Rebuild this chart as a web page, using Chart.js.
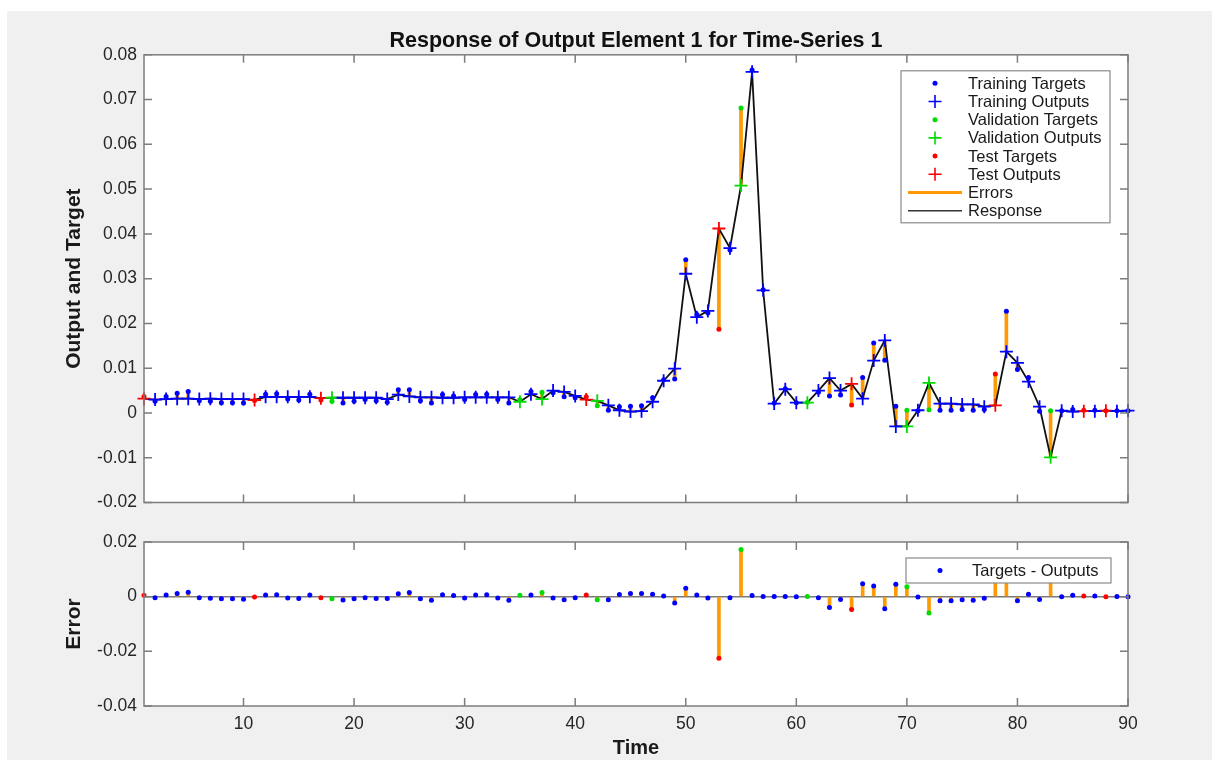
<!DOCTYPE html>
<html>
<head>
<meta charset="utf-8">
<script src="https://cdn.jsdelivr.net/npm/chart.js@4.4.1/dist/chart.umd.min.js"></script>
<style>
  html, body { margin: 0; padding: 0; background: #fff; }
  #bg { position: absolute; left: 7px; top: 11px; width: 1205px; height: 749px; background: #f0f0f0; }
  #respBox { position: absolute; left: 0; top: 0; width: 1212px; height: 520px; }
  #errBox { position: absolute; left: 0; top: 520px; width: 1212px; height: 240px; }
</style>
</head>
<body>
<div id="bg"></div>
<div id="respBox"><canvas id="resp" width="1212" height="520"></canvas></div>
<div id="errBox"><canvas id="err" width="1212" height="240"></canvas></div>
<script>
// time steps 1..90
const timeSteps = [
  1, 2, 3, 4, 5, 6, 7, 8, 9, 10, 11, 12, 13, 14, 15, 16, 17, 18, 19, 20,
  21, 22, 23, 24, 25, 26, 27, 28, 29, 30, 31, 32, 33, 34, 35, 36, 37, 38, 39, 40,
  41, 42, 43, 44, 45, 46, 47, 48, 49, 50, 51, 52, 53, 54, 55, 56, 57, 58, 59, 60,
  61, 62, 63, 64, 65, 66, 67, 68, 69, 70, 71, 72, 73, 74, 75, 76, 77, 78, 79, 80,
  81, 82, 83, 84, 85, 86, 87, 88, 89, 90
]

// network outputs
const outputs = [
  0.0032, 0.0030, 0.0031, 0.0032, 0.0032, 0.0031, 0.0032, 0.0031, 0.0031, 0.0031,
  0.0029, 0.0036, 0.0036, 0.0036, 0.0036, 0.0036, 0.0033, 0.0034, 0.0034, 0.0034,
  0.0034, 0.0034, 0.0031, 0.0041, 0.0037, 0.0035, 0.0035, 0.0034, 0.0034, 0.0035,
  0.0035, 0.0035, 0.0035, 0.0035, 0.0025, 0.0042, 0.0031, 0.0050, 0.0047, 0.0038,
  0.0030, 0.0027, 0.0017, 0.0006, 0.0003, 0.0004, 0.0025, 0.0072, 0.0099, 0.0311,
  0.0214, 0.0228, 0.0412, 0.0368, 0.0508, 0.0762, 0.0274, 0.0021, 0.0053, 0.0023,
  0.0023, 0.0050, 0.0078, 0.0050, 0.0065, 0.0032, 0.0117, 0.0162, -0.0030, -0.0030,
  0.0006, 0.0067, 0.0021, 0.0021, 0.0019, 0.0019, 0.0014, 0.0017, 0.0137, 0.0112,
  0.0070, 0.0014, -0.0099, 0.0005, 0.0003, 0.0004, 0.0004, 0.0005, 0.0004, 0.0005
]

// targets (the dots)
const targets = [
  0.0037, 0.0026, 0.0037, 0.0044, 0.0048, 0.0027, 0.0026, 0.0023, 0.0023, 0.0022,
  0.0028, 0.0042, 0.0043, 0.0031, 0.0029, 0.0042, 0.0029, 0.0026, 0.0022, 0.0026,
  0.0030, 0.0027, 0.0024, 0.0052, 0.0052, 0.0027, 0.0022, 0.0041, 0.0038, 0.0030,
  0.0041, 0.0042, 0.0030, 0.0022, 0.0030, 0.0048, 0.0046, 0.0045, 0.0036, 0.0034,
  0.0036, 0.0016, 0.0006, 0.0014, 0.0015, 0.0016, 0.0034, 0.0074, 0.0076, 0.0342,
  0.0220, 0.0223, 0.0187, 0.0364, 0.0681, 0.0766, 0.0275, 0.0022, 0.0054, 0.0023,
  0.0024, 0.0046, 0.0038, 0.0040, 0.0018, 0.0079, 0.0156, 0.0118, 0.0015, 0.0006,
  0.0005, 0.0007, 0.0006, 0.0006, 0.0008, 0.0006, 0.0008, 0.0087, 0.0227, 0.0097,
  0.0079, 0.0004, 0.0005, 0.0005, 0.0008, 0.0006, 0.0006, 0.0005, 0.0005, 0.0005
]

// which steps went to validation / test (everything else is training)
const validationSteps = [18, 35, 37, 42, 55, 61, 70, 72, 83]
const testSteps = [1, 11, 17, 41, 53, 65, 78, 86, 88]

// tick labels
const xTicks = [10, 20, 30, 40, 50, 60, 70, 80, 90]
const respTicks = [-0.02, -0.01, 0, 0.01, 0.02, 0.03, 0.04, 0.05, 0.06, 0.07, 0.08]
const errTicks = [-0.04, -0.02, 0, 0.02]

const BLUE = "#0000ff"
const GREEN = "#00dc00"
const RED = "#ff0000"
const ORANGE = "#ff9a00"
const AXIS = "#7d7d7d"
const FONT = '"Liberation Sans", Arial, Helvetica, sans-serif'

Chart.defaults.font.family = FONT
Chart.defaults.color = "#262626"

const setOf = (t) =>
  testSteps.includes(t) ? "test" : validationSteps.includes(t) ? "val" : "train"

const errors = timeSteps.map((t, i) => +(targets[i] - outputs[i]).toFixed(4))

// points of one series for one data split
const pick = (vals, split) =>
  timeSteps.filter((t) => setOf(t) === split).map((t) => ({ x: t, y: vals[t - 1] }))

const fmt = (v) => (v === 0 ? "0" : v.toFixed(2))

// white plot area, box with inward ticks on all four sides
const matlabAxes = {
  id: "matlabAxes",
  beforeDraw(chart) {
    const { ctx, chartArea: a } = chart
    ctx.save()
    ctx.fillStyle = "#fff"
    ctx.fillRect(a.left, a.top, a.width, a.height)
    ctx.restore()
  },
  afterDatasetsDraw(chart) {
    const { ctx, chartArea: a, scales } = chart
    const tl = 8
    ctx.save()
    ctx.strokeStyle = AXIS
    ctx.lineWidth = 1.5
    ctx.beginPath()
    scales.x.ticks.forEach((t) => {
      const px = scales.x.getPixelForValue(t.value)
      ctx.moveTo(px, a.bottom); ctx.lineTo(px, a.bottom - tl)
      ctx.moveTo(px, a.top); ctx.lineTo(px, a.top + tl)
    })
    scales.y.ticks.forEach((t) => {
      const py = scales.y.getPixelForValue(t.value)
      ctx.moveTo(a.left, py); ctx.lineTo(a.left + tl, py)
      ctx.moveTo(a.right, py); ctx.lineTo(a.right - tl, py)
    })
    ctx.stroke()
    ctx.strokeRect(a.left, a.top, a.width, a.height)
    ctx.restore()
  },
}

// MATLAB-style boxed legend inside the axes
const boxLegend = {
  id: "boxLegend",
  afterDraw(chart, args, opts) {
    if (!opts.items) return
    const { ctx, chartArea: a } = chart
    const left = a.right - opts.right - opts.width
    const top = a.top + opts.top
    ctx.save()
    ctx.fillStyle = "#fff"
    ctx.fillRect(left, top, opts.width, opts.height)
    ctx.strokeStyle = "#8a8a8a"
    ctx.lineWidth = 1.2
    ctx.strokeRect(left, top, opts.width, opts.height)
    ctx.font = `16.5px ${FONT}`
    ctx.textBaseline = "middle"
    opts.items.forEach((it, i) => {
      const cy = top + opts.first + i * opts.rowH
      const cx = left + 34
      if (it.kind === "dot") {
        ctx.fillStyle = it.color
        ctx.beginPath(); ctx.arc(cx, cy, 2.5, 0, Math.PI * 2); ctx.fill()
      } else if (it.kind === "cross") {
        ctx.strokeStyle = it.color
        ctx.lineWidth = 1.6
        ctx.beginPath()
        ctx.moveTo(cx - 6.5, cy); ctx.lineTo(cx + 6.5, cy)
        ctx.moveTo(cx, cy - 6.5); ctx.lineTo(cx, cy + 6.5)
        ctx.stroke()
      } else {
        ctx.strokeStyle = it.color
        ctx.lineWidth = it.width
        ctx.beginPath(); ctx.moveTo(left + 7, cy); ctx.lineTo(left + 61, cy); ctx.stroke()
      }
      ctx.fillStyle = "#1a1a1a"
      ctx.fillText(it.label, left + opts.textX, cy + 1)
    })
    ctx.restore()
  },
}

const xScale = (showLabels, height, title) => ({
  type: "linear",
  min: 1,
  max: 90,
  offset: false,
  afterBuildTicks: (s) => { s.ticks = xTicks.map((v) => ({ value: v })) },
  afterFit: (s) => { s.height = height },
  grid: { display: false, drawTicks: false, offset: false },
  border: { display: false },
  ticks: { display: showLabels, padding: 8, font: { size: 17.5 }, color: "#262626" },
  title: title
    ? { display: true, text: title, font: { size: 20, weight: "bold" }, color: "#1a1a1a", padding: { top: 3, bottom: 0 } }
    : { display: false },
})

const yScale = (min, max, ticks, title, zeroLine) => ({
  type: "linear",
  min,
  max,
  afterBuildTicks: (s) => { s.ticks = ticks.map((v) => ({ value: v })) },
  afterFit: (s) => { s.width = 144 },
  grid: {
    display: zeroLine,
    drawTicks: false,
    color: (c) => (c.tick && c.tick.value === 0 ? "#7a7a7a" : "rgba(0,0,0,0)"),
    lineWidth: 1.5,
  },
  border: { display: false },
  ticks: { padding: 7, font: { size: 17.5 }, color: "#262626", callback: fmt },
  title: { display: true, text: title, font: { size: 21, weight: "bold" }, color: "#1a1a1a", padding: { top: 62, bottom: 0 } },
})

// markers are not clipped at the axes edge, like MATLAB
const marker = (label, data, color, cross, order) => ({
  label,
  data,
  pointStyle: cross ? "cross" : "circle",
  pointRadius: cross ? 6.5 : 2.5,
  borderColor: color,
  backgroundColor: color,
  borderWidth: cross ? 1.8 : 0,
  clip: false,
  order,
})

new Chart(document.getElementById("resp"), {
  type: "scatter",
  data: {
    datasets: [
      marker("Training Outputs", pick(outputs, "train"), BLUE, true, 1),
      marker("Validation Outputs", pick(outputs, "val"), GREEN, true, 1),
      marker("Test Outputs", pick(outputs, "test"), RED, true, 1),
      marker("Training Targets", pick(targets, "train"), BLUE, false, 2),
      marker("Validation Targets", pick(targets, "val"), GREEN, false, 2),
      marker("Test Targets", pick(targets, "test"), RED, false, 2),
      {
        type: "line",
        label: "Response",
        data: timeSteps.map((t, i) => ({ x: t, y: outputs[i] })),
        borderColor: "#111",
        borderWidth: 1.8,
        pointRadius: 0,
        tension: 0,
        order: 3,
      },
      {
        type: "bar",
        label: "Errors",
        data: timeSteps.map((t, i) => ({ x: t, y: [outputs[i], targets[i]] })),
        backgroundColor: ORANGE,
        barThickness: 3,
        order: 4,
      },
    ],
  },
  options: {
    responsive: false,
    animation: false,
    events: [],
    layout: { padding: { left: 0, right: 84, top: 0, bottom: 0 } },
    scales: {
      x: xScale(false, 10, null),
      y: yScale(-0.02, 0.08, respTicks, "Output and Target", false),
    },
    plugins: {
      legend: { display: false },
      tooltip: { enabled: false },
      title: {
        display: true,
        fullSize: false,
        text: "Response of Output Element 1 for Time-Series 1",
        color: "#111",
        font: { size: 21.5, weight: "bold", lineHeight: 1.2 },
        padding: { top: 28, bottom: 1 },
      },
      boxLegend: {
        right: 18,
        top: 16,
        width: 209,
        height: 152,
        first: 12.5,
        rowH: 18.2,
        textX: 67,
        items: [
          { kind: "dot", color: BLUE, label: "Training Targets" },
          { kind: "cross", color: BLUE, label: "Training Outputs" },
          { kind: "dot", color: GREEN, label: "Validation Targets" },
          { kind: "cross", color: GREEN, label: "Validation Outputs" },
          { kind: "dot", color: RED, label: "Test Targets" },
          { kind: "cross", color: RED, label: "Test Outputs" },
          { kind: "line", color: ORANGE, width: 3, label: "Errors" },
          { kind: "line", color: "#333", width: 1.5, label: "Response" },
        ],
      },
    },
  },
  plugins: [matlabAxes, boxLegend],
})

new Chart(document.getElementById("err"), {
  type: "scatter",
  data: {
    datasets: [
      marker("Training", pick(errors, "train"), BLUE, false, 1),
      marker("Validation", pick(errors, "val"), GREEN, false, 1),
      marker("Test", pick(errors, "test"), RED, false, 1),
      {
        type: "bar",
        label: "Errors",
        data: timeSteps.map((t, i) => ({ x: t, y: errors[i] })),
        backgroundColor: ORANGE,
        barThickness: 3,
        order: 2,
      },
    ],
  },
  options: {
    responsive: false,
    animation: false,
    events: [],
    layout: { padding: { left: 0, right: 84, top: 22, bottom: 0 } },
    scales: {
      x: xScale(true, 54, "Time"),
      y: yScale(-0.04, 0.02, errTicks, "Error", true),
    },
    plugins: {
      legend: { display: false },
      tooltip: { enabled: false },
      boxLegend: {
        right: 17,
        top: 16,
        width: 205,
        height: 25,
        first: 12.5,
        rowH: 18,
        textX: 66,
        items: [{ kind: "dot", color: BLUE, label: "Targets - Outputs" }],
      },
    },
  },
  plugins: [matlabAxes, boxLegend],
})
</script>
</body>
</html>
